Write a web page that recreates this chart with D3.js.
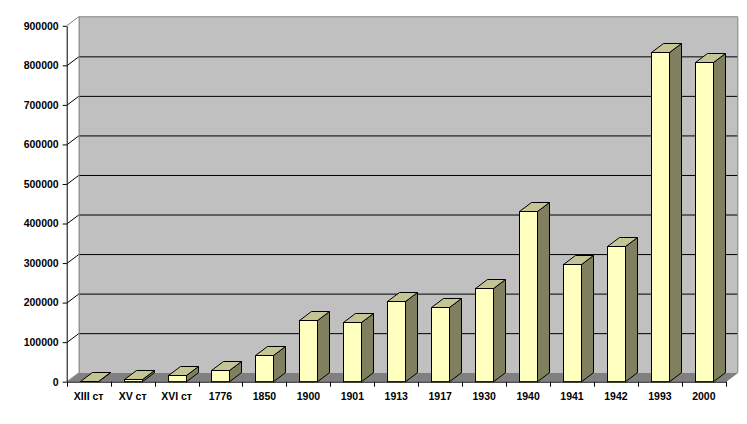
<!DOCTYPE html>
<html><head><meta charset="utf-8">
<script src="https://cdn.jsdelivr.net/npm/d3@7"></script>
<style>body{margin:0;background:#fff}svg{display:block}text{font-family:"Liberation Sans",Arial,sans-serif;font-weight:bold;font-size:10.5px}</style>
</head><body>
<script>
const categories = ["XIII ст","XV ст","XVI ст","1776","1850","1900","1901","1913","1917","1930","1940","1941","1942","1993","2000"];
const values = [800,6500,16500,29000,67000,157000,150000,205000,188000,238000,431000,297000,342000,833000,808000];
const yTicks = [0,100000,200000,300000,400000,500000,600000,700000,800000,900000];

const W=747,H=424, DX=12, DY=-9;
const svg=d3.select("body").append("svg").attr("width",W).attr("height",H);
const x=d3.scaleBand().domain(categories).range([66.7,725.8]);
const y=d3.scaleLinear().domain([0,900000]).range([381.7,25.8]);
const L=x.range()[0], R=x.range()[1], T=y(900000), B=y(0);

// back wall
svg.append("rect").attr("x",L+DX).attr("y",T+DY).attr("width",R-L).attr("height",B-T)
  .attr("fill","#C0C0C0");
// floor
svg.append("path").attr("d",`M${L},${B}L${R},${B}L${R+DX},${B+DY}L${L+DX},${B+DY}Z`).attr("fill","#808080");
// gridlines on back wall and left wall
const g=svg.append("g");
yTicks.filter(v=>v>0&&v<900000).forEach(v=>{
  g.append("line").attr("x1",L+DX).attr("x2",R+DX).attr("y1",y(v)+DY+0.5).attr("y2",y(v)+DY+0.5).attr("stroke","#000");
  g.append("line").attr("x1",L).attr("x2",L+DX).attr("y1",y(v)+0.5).attr("y2",y(v)+DY+0.5).attr("stroke","#000");
});
// wall borders
svg.append("path").attr("d",`M${L},${T}L${L+DX},${T+DY}L${R+DX},${T+DY}L${R+DX},${B+DY}L${R},${B}`)
  .attr("fill","none").attr("stroke","#808080");
svg.append("line").attr("x1",L+DX+0.5).attr("x2",L+DX+0.5).attr("y1",T+DY).attr("y2",B+DY).attr("stroke","#808080");
svg.append("line").attr("x1",L).attr("x2",L+DX).attr("y1",B).attr("y2",B+DY).attr("stroke","#A0A0A0");

// bars
const bw=x.bandwidth(), barW=bw*0.41;
const bars=svg.append("g").selectAll("g").data(categories).join("g");
bars.each(function(c,i){
  const gg=d3.select(this);
  const x0=Math.round(x(c)+(bw-barW)/2)+0.5, x1=x0+Math.round(barW);
  const yt=Math.round(y(values[i]))+0.5, yb=B;
  gg.append("path").attr("d",`M${x1},${yb}L${x1+DX},${yb+DY}L${x1+DX},${yt+DY}L${x1},${yt}Z`)
    .attr("fill","#808060").attr("stroke","#000");
  gg.append("path").attr("d",`M${x0},${yt}L${x0+DX},${yt+DY}L${x1+DX},${yt+DY}L${x1},${yt}Z`)
    .attr("fill","#C4C494").attr("stroke","#000");
  if(yb-yt>1) gg.append("rect").attr("x",x0).attr("y",yt).attr("width",x1-x0).attr("height",yb-yt)
    .attr("fill","#FFFFC0").attr("stroke","#000");
});

// axes
const yAxis=d3.axisLeft(y).tickValues(yTicks).tickSize(4).tickSizeOuter(0).tickFormat(d3.format("d"));
const ya=svg.append("g").attr("transform",`translate(${L},0)`).call(yAxis);
ya.selectAll("text").attr("x",-8).attr("fill","#000");
ya.select(".domain").attr("stroke","#000");

const xAxis=d3.axisBottom(x).tickSize(0).tickSizeOuter(0);
const xa=svg.append("g").attr("transform",`translate(0,${B})`).call(xAxis);
xa.selectAll("text").attr("y",11).attr("fill","#000");
xa.select(".domain").attr("stroke","#000");
// category boundary ticks
const bounds=categories.map(c=>x(c)).concat([R]);
svg.append("g").selectAll("line").data(bounds).join("line")
  .attr("x1",d=>Math.round(d)+0.5).attr("x2",d=>Math.round(d)+0.5).attr("y1",B).attr("y2",B+5).attr("stroke","#000");
</script>
</body></html>
